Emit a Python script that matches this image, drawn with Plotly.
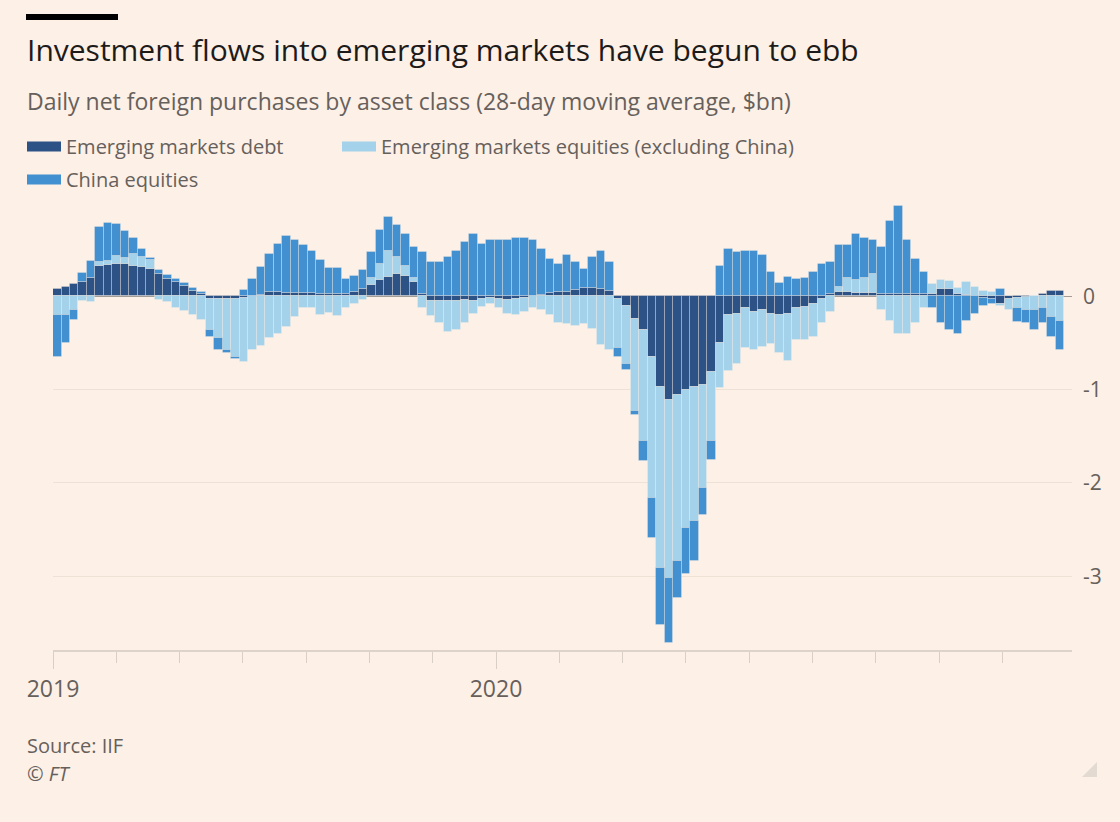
import numpy as np
import pandas as pd
import plotly.graph_objects as go

# ---------------- data (weekly readings of the 28-day moving average, $bn) ----------------
start_date = "2019-01-01"
period_days = 7

debt = [0.08, 0.10, 0.13, 0.15, 0.20, 0.32, 0.34, 0.35, 0.35, 0.33,
        0.31, 0.29, 0.24, 0.19, 0.15, 0.11, 0.06, 0.03, -0.03, -0.03,
        -0.03, -0.03, -0.02, 0.00, 0.01, 0.05, 0.05, 0.04, 0.04, 0.04,
        0.04, 0.03, 0.03, 0.03, 0.03, 0.05, 0.08, 0.12, 0.17, 0.21,
        0.24, 0.22, 0.15, 0.03, -0.05, -0.05, -0.05, -0.05, -0.04, -0.05,
        -0.03, -0.02, -0.03, -0.04, -0.03, -0.02, 0.00, 0.01, 0.04, 0.05,
        0.05, 0.07, 0.09, 0.09, 0.08, 0.06, -0.03, -0.10, -0.24, -0.36,
        -0.65, -0.97, -1.11, -1.06, -1.00, -0.97, -0.95, -0.81, -0.50, -0.20,
        -0.19, -0.13, -0.17, -0.15, -0.19, -0.20, -0.19, -0.13, -0.11, -0.08,
        -0.03, 0.03, 0.05, 0.05, 0.04, 0.04, 0.04, 0.02, 0.02, 0.02,
        0.02, 0.02, 0.03, 0.03, 0.08, 0.08, 0.03, 0.01, 0.00, -0.02,
        -0.03, -0.08, -0.03, -0.02, -0.01, 0.00, 0.02, 0.06, 0.06]

ex_china = [-0.20, -0.20, -0.15, -0.05, -0.06, 0.05, 0.04, 0.08, 0.06, 0.12,
            0.11, 0.10, -0.04, -0.06, -0.12, -0.16, -0.20, -0.25, -0.33, -0.42,
            -0.55, -0.62, -0.68, -0.58, -0.53, -0.45, -0.40, -0.33, -0.22, -0.12,
            -0.13, -0.20, -0.18, -0.21, -0.13, -0.08, -0.04, 0.08, 0.18, 0.28,
            0.18, 0.11, 0.05, -0.12, -0.16, -0.24, -0.33, -0.31, -0.25, -0.14,
            -0.08, -0.06, -0.10, -0.15, -0.17, -0.15, -0.13, -0.15, -0.20, -0.29,
            -0.30, -0.32, -0.30, -0.35, -0.52, -0.58, -0.52, -0.62, -0.99, -1.19,
            -1.51, -1.94, -1.91, -1.78, -1.48, -1.44, -1.10, -0.74, -0.48, -0.60,
            -0.53, -0.42, -0.40, -0.39, -0.32, -0.41, -0.50, -0.34, -0.36, -0.36,
            -0.26, -0.17, 0.05, 0.15, 0.14, 0.16, 0.20, -0.15, -0.26, -0.40,
            -0.40, -0.29, -0.13, 0.10, 0.10, 0.08, 0.06, 0.14, 0.10, 0.06,
            0.05, -0.02, -0.12, -0.10, -0.14, -0.15, -0.13, -0.22, -0.26]

china = [-0.45, -0.30, -0.10, 0.10, 0.18, 0.37, 0.41, 0.35, 0.29, 0.18,
         0.09, 0.02, 0.04, 0.04, 0.04, 0.03, 0.03, 0.02, -0.08, -0.12,
         -0.03, -0.02, 0.07, 0.19, 0.30, 0.40, 0.51, 0.61, 0.56, 0.51,
         0.45, 0.36, 0.27, 0.27, 0.16, 0.17, 0.20, 0.27, 0.36, 0.36,
         0.34, 0.34, 0.33, 0.44, 0.37, 0.37, 0.42, 0.49, 0.58, 0.67,
         0.56, 0.60, 0.60, 0.60, 0.62, 0.62, 0.60, 0.50, 0.36, 0.30,
         0.39, 0.30, 0.20, 0.33, 0.41, 0.31, -0.10, -0.07, -0.04, -0.22,
         -0.43, -0.61, -0.69, -0.39, -0.50, -0.43, -0.29, -0.20, 0.32, 0.51,
         0.47, 0.49, 0.49, 0.44, 0.26, 0.14, 0.21, 0.19, 0.20, 0.26,
         0.35, 0.34, 0.45, 0.35, 0.49, 0.42, 0.36, 0.51, 0.79, 0.95,
         0.58, 0.38, 0.23, -0.12, -0.29, -0.36, -0.40, -0.26, -0.19, -0.08,
         -0.05, 0.08, 0.00, -0.15, -0.14, -0.21, -0.16, -0.22, -0.32]

series_names = ["Emerging markets debt",
                "Emerging markets equities (excluding China)",
                "China equities"]
series_colors = ["#2d5285", "#a3d2ea", "#4290cf"]

x_major_labels = ["2019", "2020"]
x_major_dates = ["2019-01-01", "2020-01-01"]
y_tick_vals = [-3, -2, -1, 0]
y_tick_text = ["-3", "-2", "-1", "0"]

# ---------------- layout geometry (pixels) ----------------
W, H = 1120, 822
L, R, T, B = 53, 48, 203, 172
PW, PH = W - L - R, H - T - B


def px(xp):
    return (xp - L) / PW


def py(yp):
    return (H - B - yp) / PH


base = pd.Timestamp(start_date)
n = len(debt)
dates = base + pd.to_timedelta(np.arange(n) * period_days + period_days / 2, unit="D")

# axis ticks: evenly spaced, seven per year
tick_step = 365 / 7
minor_dates = [(base + pd.Timedelta(days=tick_step * k)).strftime("%Y-%m-%d %H:%M")
               for k in range(16) if k not in (0, 7)]
x_end = base + pd.Timedelta(days=(1072 - 53) / 443 * 365)

BG = "#fdf0e6"
GREY = "#66605c"
FONT = "Open Sans"

fig = go.Figure()
for vals, name, col in zip([debt, ex_china, china], series_names, series_colors):
    fig.add_trace(go.Bar(
        x=dates, y=vals, name=name, marker_color=col,
        marker_line=dict(width=1, color="rgba(253,240,230,0.3)"),
        showlegend=False, legendgroup=name, hoverinfo="skip"))

# legend entries (wide swatches)
legend_map = {series_names[0]: "legend", series_names[2]: "legend",
              series_names[1]: "legend2"}
for name, col in [(series_names[0], series_colors[0]),
                  (series_names[2], series_colors[2]),
                  (series_names[1], series_colors[1])]:
    fig.add_trace(go.Scatter(x=[None], y=[None], mode="lines", name=name,
                             line=dict(color=col, width=15),
                             legendgroup=name, legend=legend_map[name]))

fig.update_layout(
    width=W, height=H,
    margin=dict(l=L, r=R, t=T, b=B, autoexpand=False),
    paper_bgcolor=BG, plot_bgcolor=BG,
    barmode="relative", bargap=0,
    font=dict(family=FONT, color=GREY, size=17),
    legend=dict(x=px(22), y=py(127), xanchor="left", yanchor="top",
                orientation="v", bgcolor="rgba(0,0,0,0)", itemwidth=34,
                font=dict(size=20, color=GREY), tracegroupgap=4,
                traceorder="grouped"),
    legend2=dict(x=px(337), y=py(127), xanchor="left", yanchor="top",
                 orientation="v", bgcolor="rgba(0,0,0,0)", itemwidth=34,
                 font=dict(size=20, color=GREY)),
    xaxis=dict(
        type="date", range=[base, x_end],
        tickmode="array", tickvals=x_major_dates, ticktext=x_major_labels,
        ticks="outside", ticklen=17, tickcolor="#d9cfc6", tickwidth=1,
        minor=dict(tickmode="array", tickvals=minor_dates, ticks="outside",
                   ticklen=11, tickcolor="#d9cfc6", tickwidth=1, showgrid=False),
        showline=True, linecolor="#ddd3ca", linewidth=2,
        showgrid=False, zeroline=False,
        tickfont=dict(size=23, color=GREY),
    ),
    yaxis=dict(
        side="right", range=[-3.79, 1.0],
        tickmode="array", tickvals=y_tick_vals, ticktext=y_tick_text,
        ticks="", showgrid=True, gridcolor="#eee2d7", gridwidth=1,
        zeroline=True, zerolinecolor="#a39d98", zerolinewidth=1,
        showline=False, tickfont=dict(size=21, color=GREY),
        ticklabelstandoff=10,
    ),
    shapes=[
        dict(type="rect", xref="paper", yref="paper",
             x0=px(26), x1=px(118), y0=py(20), y1=py(14),
             fillcolor="#000000", line=dict(width=0)),
        dict(type="path", xref="paper", yref="paper",
             path="M {} {} L {} {} L {} {} Z".format(px(1097), py(762), px(1097), py(777), px(1082), py(777)),
             fillcolor="#e3dad2", line=dict(width=0)),
    ],
    annotations=[
        dict(text="Investment flows into emerging markets have begun to ebb",
             xref="paper", yref="paper", x=px(25), y=py(50), xanchor="left",
             yanchor="middle", showarrow=False,
             font=dict(size=30, color="#1d1b1a", family=FONT)),
        dict(text="Daily net foreign purchases by asset class (28-day moving average, $bn)",
             xref="paper", yref="paper", x=px(25), y=py(101), xanchor="left",
             yanchor="middle", showarrow=False,
             font=dict(size=23, color=GREY, family=FONT)),
        dict(text="Source: IIF", xref="paper", yref="paper", x=px(25), y=py(745),
             xanchor="left", yanchor="middle", showarrow=False,
             font=dict(size=20, color=GREY, family=FONT)),
        dict(text="<i>© FT</i>", xref="paper", yref="paper", x=px(25), y=py(773),
             xanchor="left", yanchor="middle", showarrow=False,
             font=dict(size=20, color=GREY, family=FONT)),
    ],
)

fig.write_html(
    "out.html",
    config={"displayModeBar": False},
    post_script="document.body.style.margin='0';document.body.style.background='" + BG + "';",
)
